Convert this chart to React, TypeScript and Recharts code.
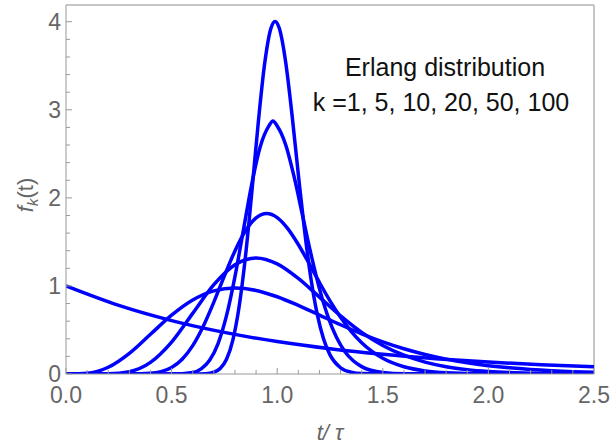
import React from 'react';
import { LineChart, Line, XAxis, YAxis, ReferenceLine } from 'recharts';

// Erlang densities, mean scaled to tau = 1
const k1T = [0, 0.25, 0.5, 0.75, 1, 1.25, 1.5, 1.75, 2, 2.25, 2.5];
const k1F = [1, 0.7788, 0.6065, 0.4724, 0.3679, 0.2865, 0.2231, 0.1738, 0.1353, 0.1054, 0.0821];

const k5T = [0, 0.1, 0.2, 0.3, 0.4, 0.5, 0.6, 0.7, 0.8, 0.9, 1.0, 1.1, 1.2, 1.3, 1.4, 1.5, 1.6, 1.7, 1.8, 1.9, 2.0, 2.1, 2.2, 2.3, 2.4, 2.5];
const k5F = [0, 0.0079, 0.0766, 0.2353, 0.4511, 0.668, 0.8402, 0.9441, 0.9768, 0.949, 0.8773, 0.7791, 0.6693, 0.5591, 0.4561, 0.3646, 0.2863, 0.2213, 0.1687, 0.127, 0.0946, 0.0697, 0.0509, 0.0369, 0.0265, 0.019];

const k10T = [0, 0.1, 0.2, 0.3, 0.4, 0.5, 0.6, 0.7, 0.8, 0.9, 1.0, 1.1, 1.2, 1.3, 1.4, 1.5, 1.6, 1.7, 1.8, 1.9, 2.0, 2.1, 2.2, 2.3, 2.4, 2.5];
const k10F = [0, 0.00001, 0.0019, 0.027, 0.1323, 0.3627, 0.6884, 1.014, 1.2408, 1.3176, 1.2511, 1.0853, 0.8736, 0.6605, 0.4734, 0.3241, 0.2131, 0.1353, 0.0833, 0.0498, 0.0291, 0.0166, 0.0093, 0.0051, 0.0027, 0.0015];

const k20T = [0, 0.2, 0.3, 0.4, 0.45, 0.5, 0.55, 0.6, 0.65, 0.7, 0.75, 0.8, 0.85, 0.9, 0.95, 1.0, 1.05, 1.1, 1.15, 1.2, 1.25, 1.3, 1.35, 1.4, 1.5, 1.6, 1.7, 1.8, 2.0, 2.5];
const k20F = [0, 0, 0.0002, 0.0079, 0.0274, 0.0746, 0.1679, 0.3226, 0.5431, 0.8167, 1.1147, 1.3979, 1.6269, 1.7731, 1.8221, 1.7764, 1.6513, 1.4704, 1.2589, 1.0394, 0.8303, 0.6435, 0.4851, 0.3561, 0.1788, 0.0825, 0.0353, 0.0142, 0.0019, 0];

const k50T = [0, 0.4, 0.5, 0.6, 0.64, 0.68, 0.72, 0.76, 0.8, 0.84, 0.88, 0.92, 0.96, 0.98, 1.0, 1.04, 1.08, 1.12, 1.16, 1.2, 1.24, 1.28, 1.32, 1.36, 1.4, 1.5, 1.6, 2.0, 2.5];
const k50F = [0, 0, 0.0004, 0.0184, 0.0589, 0.1553, 0.3461, 0.6623, 1.1066, 1.6349, 2.1634, 2.5843, 2.8148, 2.8726, 2.8156, 2.6039, 2.2403, 1.8003, 1.3601, 0.9693, 0.6543, 0.4195, 0.2565, 0.1499, 0.0839, 0.0166, 0.0026, 0, 0];

const k100T = [0, 0.6, 0.66, 0.7, 0.73, 0.76, 0.79, 0.82, 0.85, 0.88, 0.91, 0.94, 0.97, 0.99, 1.01, 1.04, 1.07, 1.1, 1.13, 1.16, 1.19, 1.22, 1.25, 1.3, 1.35, 1.4, 1.6, 2.5];
const k100F = [0, 0.0001, 0.0032, 0.0197, 0.0624, 0.1675, 0.3853, 0.7683, 1.3409, 2.0694, 2.8459, 3.5135, 3.9228, 4.004, 3.9251, 3.5435, 2.9471, 2.2668, 1.6193, 1.079, 0.6731, 0.3942, 0.2174, 0.0711, 0.0201, 0.005, 0, 0];

const xTicks = [0, 0.1, 0.2, 0.3, 0.4, 0.5, 0.6, 0.7, 0.8, 0.9, 1.0, 1.1, 1.2, 1.3, 1.4, 1.5, 1.6, 1.7, 1.8, 1.9, 2.0, 2.1, 2.2, 2.3, 2.4, 2.5];
const yTicks = [0, 0.2, 0.4, 0.6, 0.8, 1, 1.2, 1.4, 1.6, 1.8, 2, 2.2, 2.4, 2.6, 2.8, 3, 3.2, 3.4, 3.6, 3.8, 4];

const zip = (ts: number[], fs: number[]) => ts.map((t, i) => ({ t, f: fs[i] }));

const series = [
  zip(k1T, k1F),
  zip(k5T, k5F),
  zip(k10T, k10F),
  zip(k20T, k20F),
  zip(k50T, k50F),
  zip(k100T, k100F),
];

const FONT = '"Liberation Sans", Arial, sans-serif';
const TICK_COLOR = '#666';
const AXIS_COLOR = '#999';

function XTick(props: any) {
  const { x, y, payload } = props;
  const v = payload.value as number;
  const major = Math.abs(v * 2 - Math.round(v * 2)) < 1e-6;
  return (
    <g>
      <line x1={x} y1={y} x2={x} y2={y - (major ? 6 : 4)} stroke={AXIS_COLOR} strokeWidth={1} />
      {major && (
        <text x={x} y={y + 29} textAnchor="middle" fill={TICK_COLOR} fontSize={23} fontFamily={FONT}>
          {v.toFixed(1)}
        </text>
      )}
    </g>
  );
}

function YTick(props: any) {
  const { x, y, payload } = props;
  const v = payload.value as number;
  const major = Math.abs(v - Math.round(v)) < 1e-6;
  return (
    <g>
      <line x1={x} y1={y} x2={x + (major ? 6 : 4)} y2={y} stroke={AXIS_COLOR} strokeWidth={1} />
      {major && (
        <text x={x - 5} y={y + 8} textAnchor="end" fill={TICK_COLOR} fontSize={23} fontFamily={FONT}>
          {String(Math.round(v))}
        </text>
      )}
    </g>
  );
}

export default function App() {
  return (
    <div style={{ position: 'absolute', left: 0, top: 0, width: 611, height: 446, background: '#fff' }}>
      <LineChart width={611} height={446} margin={{ top: 5, right: 17, bottom: 0, left: 0 }}>
        <XAxis
          type="number"
          dataKey="t"
          domain={[0, 2.5]}
          ticks={xTicks}
          interval={0}
          tickSize={0}
          tickMargin={0}
          tick={<XTick />}
          axisLine={{ stroke: AXIS_COLOR }}
          height={72}
          allowDataOverflow
        />
        <YAxis
          type="number"
          domain={[0, 4.19]}
          ticks={yTicks}
          interval={0}
          tickSize={0}
          tickMargin={0}
          tick={<YTick />}
          axisLine={{ stroke: AXIS_COLOR }}
          width={66}
          allowDataOverflow
        />
        <ReferenceLine y={4.19} stroke="#b3b3b3" strokeWidth={1.5} />
        <ReferenceLine x={2.5} stroke="#b3b3b3" strokeWidth={1.5} />
        {series.map((d, i) => (
          <Line
            key={i}
            data={d}
            dataKey="f"
            type="monotone"
            stroke="#0000ff"
            strokeWidth={3.5}
            dot={false}
            isAnimationActive={false}
          />
        ))}
      </LineChart>
      <svg
        width={611}
        height={446}
        style={{ position: 'absolute', left: 0, top: 0, pointerEvents: 'none' }}
        fontFamily={FONT}
      >
        <text x={445} y={76} textAnchor="middle" fontSize={25} fill="#111">
          Erlang distribution
        </text>
        <text x={441} y={111} textAnchor="middle" fontSize={25} fill="#111">
          k =1, 5, 10, 20, 50, 100
        </text>
        <text transform="translate(33,195) rotate(-90)" textAnchor="middle" fontSize={22} fill={TICK_COLOR}>
          <tspan fontStyle="italic">f</tspan>
          <tspan fontStyle="italic" fontSize={15} dy={5}>k</tspan>
          <tspan dy={-5}>(t)</tspan>
        </text>
        <text x={330} y={440} textAnchor="middle" fontSize={22} fill={TICK_COLOR} fontStyle="italic">
          t/ τ
        </text>
      </svg>
    </div>
  );
}
